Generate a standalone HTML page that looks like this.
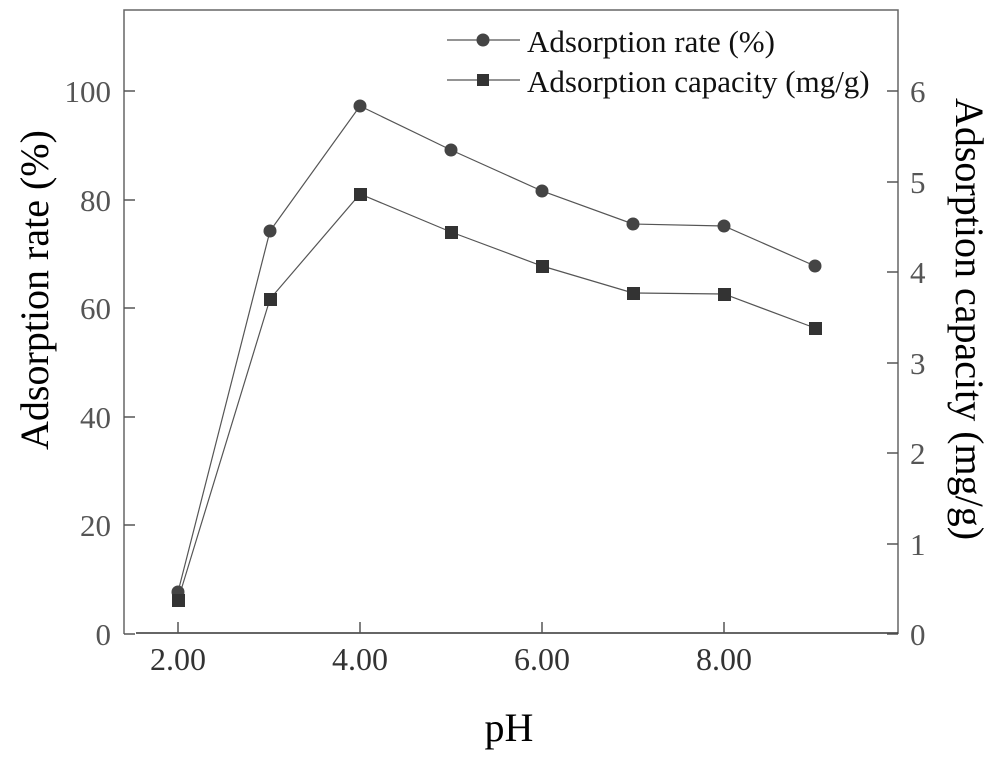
<!DOCTYPE html><html><head><style>body{margin:0;background:#fff}</style></head><body>
<svg width="1000" height="754" xmlns="http://www.w3.org/2000/svg" font-family="Liberation Serif, serif">
<rect width="1000" height="754" fill="#fff"/>
<g stroke="#666" stroke-width="1.5" fill="none">
<polyline points="124,634 124,10 898,10 898,634"/>
<line x1="136" y1="633" x2="898" y2="633" stroke="#333"/>
</g>
<g stroke="#555" stroke-width="1.5">
<line x1="124" y1="634" x2="135" y2="634"/><line x1="124" y1="525" x2="135" y2="525"/><line x1="124" y1="417" x2="135" y2="417"/><line x1="124" y1="308" x2="135" y2="308"/><line x1="124" y1="200" x2="135" y2="200"/><line x1="124" y1="91" x2="135" y2="91"/>
<line x1="887" y1="91" x2="898" y2="91"/><line x1="887" y1="182" x2="898" y2="182"/><line x1="887" y1="272" x2="898" y2="272"/><line x1="887" y1="363" x2="898" y2="363"/><line x1="887" y1="453" x2="898" y2="453"/><line x1="887" y1="544" x2="898" y2="544"/><line x1="887" y1="634" x2="898" y2="634"/>
<line x1="178" y1="633" x2="178" y2="622"/><line x1="360" y1="633" x2="360" y2="622"/><line x1="542" y1="633" x2="542" y2="622"/><line x1="724" y1="633" x2="724" y2="622"/>
</g>
<g font-size="31" fill="#555" text-anchor="end">
<text x="111" y="645">0</text><text x="111" y="536">20</text><text x="111" y="428">40</text><text x="111" y="319">60</text><text x="111" y="211">80</text><text x="111" y="102">100</text>
</g>
<g font-size="31" fill="#555">
<text x="910" y="102">6</text><text x="910" y="193">5</text><text x="910" y="283">4</text><text x="910" y="374">3</text><text x="910" y="464">2</text><text x="910" y="555">1</text><text x="910" y="645">0</text>
</g>
<g font-size="32" fill="#333" text-anchor="middle">
<text x="178" y="670">2.00</text><text x="360" y="670">4.00</text><text x="542" y="670">6.00</text><text x="724" y="670">8.00</text>
</g>
<text x="509" y="741" font-size="40" text-anchor="middle">pH</text>
<text transform="translate(48,290) rotate(-90)" font-size="40" text-anchor="middle">Adsorption rate (%)</text>
<text transform="translate(956,319) rotate(90)" font-size="40" text-anchor="middle">Adsorption capacity (mg/g)</text>
<g stroke="#555" stroke-width="1.2" fill="none">
<polyline points="178,592 270,231 360,106 451,150 542,191 633,224 724,226 815,266"/>
<polyline points="178,600 270,299 360,194 451,232 542,266 633,293 724,294 815,328"/>
<line x1="447" y1="40" x2="520" y2="40"/><line x1="447" y1="80" x2="520" y2="80"/>
</g>
<g fill="#444">
<circle cx="178" cy="592" r="6.5"/><circle cx="270" cy="231" r="6.5"/><circle cx="360" cy="106" r="6.5"/><circle cx="451" cy="150" r="6.5"/><circle cx="542" cy="191" r="6.5"/><circle cx="633" cy="224" r="6.5"/><circle cx="724" cy="226" r="6.5"/><circle cx="815" cy="266" r="6.5"/>
<circle cx="483" cy="40" r="6.5"/>
</g>
<g fill="#333">
<rect x="172" y="594" width="13" height="13"/><rect x="264" y="293" width="13" height="13"/><rect x="354" y="188" width="13" height="13"/><rect x="445" y="226" width="13" height="13"/><rect x="536" y="260" width="13" height="13"/><rect x="627" y="287" width="13" height="13"/><rect x="718" y="288" width="13" height="13"/><rect x="809" y="322" width="13" height="13"/>
<rect x="477" y="74" width="12" height="12"/>
</g>
<g font-size="31" fill="#111">
<text x="527" y="52">Adsorption rate (%)</text>
<text x="527" y="92">Adsorption capacity (mg/g)</text>
</g>
</svg>
</body></html>
